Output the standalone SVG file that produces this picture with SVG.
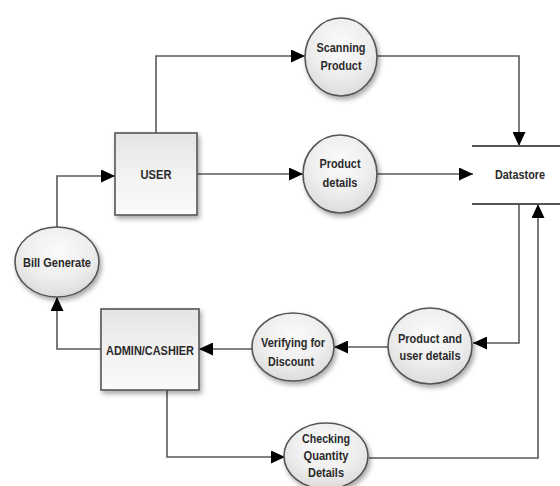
<svg xmlns="http://www.w3.org/2000/svg" width="560" height="486" viewBox="0 0 560 486">
  <defs>
    <radialGradient id="bubbleFill" cx="0.5" cy="0.35" r="0.65">
      <stop offset="0" stop-color="#fbfbfb"/>
      <stop offset="0.6" stop-color="#eeeeee"/>
      <stop offset="1" stop-color="#dcdcdc"/>
    </radialGradient>
    <linearGradient id="boxFill" x1="0" y1="0" x2="0" y2="1">
      <stop offset="0" stop-color="#e4e4e4"/>
      <stop offset="0.5" stop-color="#f2f2f2"/>
      <stop offset="1" stop-color="#fafafa"/>
    </linearGradient>
    <filter id="shadow" x="-20%" y="-20%" width="150%" height="150%">
      <feGaussianBlur in="SourceAlpha" stdDeviation="2.5"/>
      <feOffset dx="2" dy="3" result="off"/>
      <feComponentTransfer><feFuncA type="linear" slope="0.35"/></feComponentTransfer>
      <feMerge><feMergeNode/><feMergeNode in="SourceGraphic"/></feMerge>
    </filter>
    <marker id="arrow" markerUnits="userSpaceOnUse" markerWidth="15" markerHeight="13" refX="14" refY="6.5" orient="auto">
      <path d="M0,0 L14,6.5 L0,13 z" fill="#000"/>
    </marker>
  </defs>
  <style>
    .bubble { fill: url(#bubbleFill); stroke: #555; stroke-width: 1.6; filter: url(#shadow); }
    .box { fill: url(#boxFill); stroke: #555; stroke-width: 1.6; filter: url(#shadow); }
    .flow { fill: none; stroke: #5a5a5a; stroke-width: 1.6; marker-end: url(#arrow); }
    .store { stroke: #555; stroke-width: 2; }
    text { font-family: "Liberation Sans", Arial, sans-serif; font-weight: bold; font-size: 13.5px; fill: #2a2a2a; text-anchor: middle; }
  </style>

  <g id="connectors">
    <path class="flow" d="M156,133 V56 H305"/>
    <path class="flow" d="M377,56 H519 V146"/>
    <path class="flow" d="M197,174 H303"/>
    <path class="flow" d="M377,174 H473"/>
    <path class="flow" d="M519,204 V343 H473"/>
    <path class="flow" d="M388,347 H334"/>
    <path class="flow" d="M252,349 H199"/>
    <path class="flow" d="M101,349 H57 V297"/>
    <path class="flow" d="M57,228 V176 H115"/>
    <path class="flow" d="M167,390 V457 H285"/>
    <path class="flow" d="M369,458 H538 V204"/>
  </g>

  <g id="user">
    <rect class="box" x="115" y="133" width="82" height="82"/>
    <text x="156" y="179" textLength="31" lengthAdjust="spacingAndGlyphs">USER</text>
  </g>

  <g id="admin-cashier">
    <rect class="box" x="101" y="309" width="98" height="81"/>
    <text x="150" y="355" textLength="88" lengthAdjust="spacingAndGlyphs">ADMIN/CASHIER</text>
  </g>

  <g id="scanning-product">
    <ellipse class="bubble" cx="341" cy="57" rx="36" ry="39"/>
    <text x="341" y="52" textLength="49" lengthAdjust="spacingAndGlyphs">Scanning</text>
    <text x="341" y="70" textLength="41" lengthAdjust="spacingAndGlyphs">Product</text>
  </g>

  <g id="product-details">
    <ellipse class="bubble" cx="340" cy="174" rx="37" ry="39"/>
    <text x="340" y="168" textLength="41" lengthAdjust="spacingAndGlyphs">Product</text>
    <text x="340" y="187" textLength="35" lengthAdjust="spacingAndGlyphs">details</text>
  </g>

  <g id="datastore">
    <line class="store" x1="472" y1="146" x2="560" y2="146"/>
    <line class="store" x1="472" y1="204" x2="560" y2="204"/>
    <text x="520" y="179" textLength="50" lengthAdjust="spacingAndGlyphs">Datastore</text>
  </g>

  <g id="product-user-details">
    <ellipse class="bubble" cx="430" cy="346" rx="42" ry="38"/>
    <text x="430" y="343" textLength="64" lengthAdjust="spacingAndGlyphs">Product and</text>
    <text x="430" y="360" textLength="61" lengthAdjust="spacingAndGlyphs">user details</text>
  </g>

  <g id="verifying-discount">
    <ellipse class="bubble" cx="293" cy="347" rx="41" ry="34"/>
    <text x="293" y="347" textLength="64" lengthAdjust="spacingAndGlyphs">Verifying for</text>
    <text x="291" y="366" textLength="46" lengthAdjust="spacingAndGlyphs">Discount</text>
  </g>

  <g id="bill-generate">
    <ellipse class="bubble" cx="57" cy="262" rx="42" ry="35"/>
    <text x="57" y="267" textLength="68" lengthAdjust="spacingAndGlyphs">Bill Generate</text>
  </g>

  <g id="checking-quantity">
    <ellipse class="bubble" cx="326" cy="456" rx="42" ry="33"/>
    <text x="326" y="443" textLength="48" lengthAdjust="spacingAndGlyphs">Checking</text>
    <text x="326" y="460" textLength="45" lengthAdjust="spacingAndGlyphs">Quantity</text>
    <text x="326" y="477" textLength="36" lengthAdjust="spacingAndGlyphs">Details</text>
  </g>
</svg>
